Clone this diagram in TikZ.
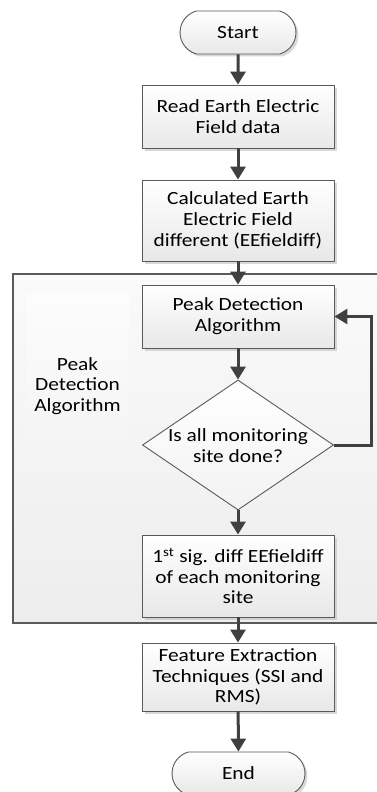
\documentclass[tikz,border=0pt]{standalone}
\usepackage{fontspec}
\setmainfont{Carlito}[FakeStretch=1.15]
\usetikzlibrary{shapes.geometric,shapes.misc,arrows.meta,shadows}
\definecolor{edge}{HTML}{5A5A5A}
\definecolor{arrowc}{HTML}{404040}
\begin{document}
\begin{tikzpicture}[x=1pt,y=-1pt,
  txt/.style={font=\fontsize{18.6}{20.8}\selectfont, align=center, text=black},
  procbox/.style={txt, draw=edge, line width=0.9pt, rectangle, minimum width=192pt,
    top color=white, bottom color=black!9, inner sep=0pt,
    drop shadow={shadow xshift=2.5pt, shadow yshift=-2.5pt, fill=black!25, opacity=0.6}},
  term/.style={txt, draw=edge, line width=0.9pt, rounded rectangle, rounded rectangle arc length=150,
    minimum height=43pt, inner sep=0pt,
    top color=white, bottom color=black!9,
    drop shadow={shadow xshift=2.5pt, shadow yshift=-2.5pt, fill=black!25, opacity=0.6}},
  decis/.style={draw=edge, line width=0.9pt, diamond, minimum width=191pt, minimum height=130pt,
    inner sep=0pt, top color=white, bottom color=black!5},
  arr/.style={draw=arrowc, line width=3pt, -{Triangle[width=15pt,length=13pt]}},
]
\useasboundingbox (0,0) rectangle (377,792);
\fill[white] (0,0) rectangle (377,792);
% container
\node[draw=edge, line width=1.2pt, rectangle, top color=black!2, bottom color=black!7,
  minimum width=366pt, minimum height=349pt, inner sep=0pt] (cont) at (196,448.5) {};
\node[rectangle, top color=black!1, bottom color=black!5, minimum width=103pt, minimum height=188pt,
  inner sep=0pt] (lblbg) at (77.5,386) {};
\node[txt] (lbl) at (77.5,386) {Peak\\Detection\\Algorithm};

\node[term, minimum width=116pt] (start) at (238,32.5) {Start};
\node[procbox, minimum height=63pt] (read) at (238,116.5) {Read Earth Electric\\Field data};
\node[procbox, minimum height=81pt] (calc) at (238,220.5) {Calculated Earth\\Electric Field\\different (EEfieldiff)};
\node[procbox, minimum height=63pt] (pd) at (238,316.5) {Peak Detection\\Algorithm};
\node[decis] (dia) at (238,445) {};
\node[txt] (diatxt) at (238,446) {Is all monitoring\\site done?};
\node[procbox, minimum height=82pt] (sig) at (238,576) {1\textsuperscript{st} sig. diff EEfieldiff\\of each monitoring\\site};
\node[procbox, minimum height=68pt] (feat) at (238,677) {Feature Extraction\\Techniques (SSI and\\RMS)};
\node[term, minimum width=133pt] (end) at (238.5,773.5) {End};

\draw[arr] (start) -- (read);
\draw[arr] (read) -- (calc);
\draw[arr] (calc) -- (pd);
\draw[arr] (pd) -- (dia);
\draw[arr] (dia) -- (sig);
\draw[arr] (sig) -- (feat);
\draw[arr] (feat) -- (end);
\coordinate (loopc) at (371,445);
\draw[arr] (dia.east) -- (loopc) |- (pd.east);
\end{tikzpicture}
\end{document}
